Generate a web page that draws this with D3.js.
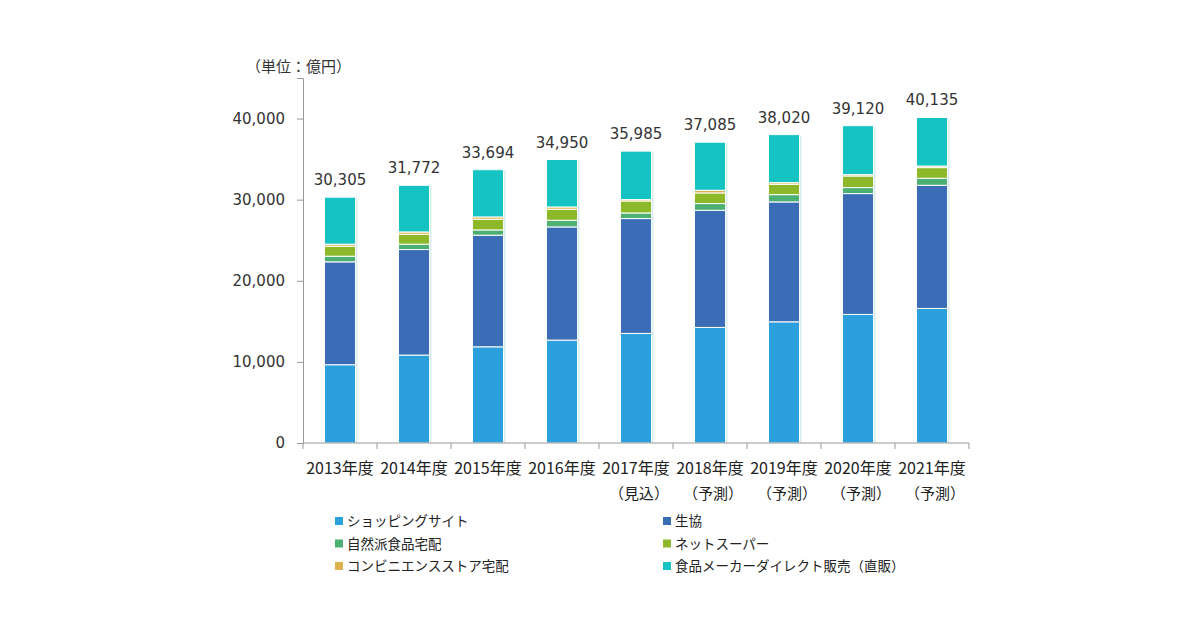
<!DOCTYPE html>
<html><head><meta charset="utf-8">
<script src="https://cdn.jsdelivr.net/npm/d3@7"></script>
<style>
body{margin:0;background:#fff;}
text{font-family:"Noto Sans CJK JP","Noto Sans",sans-serif;}
</style></head>
<body><svg id="c" width="1200" height="630"></svg>
<script>
const years = ["2013年度","2014年度","2015年度","2016年度","2017年度","2018年度","2019年度","2020年度","2021年度"];
const subLabels = ["","","","","（見込）","（予測）","（予測）","（予測）","（予測）"];
const totals = [30305,31772,33694,34950,35985,37085,38020,39120,40135];
const seriesNames = ["ショッピングサイト","生協","自然派食品宅配","ネットスーパー","コンビニエンスストア宅配","食品メーカーダイレクト販売（直販）"];
const shopping = [9650,10840,11860,12685,13510,14250,14940,15850,16590];
const coop     = [12680,13010,13755,13955,14160,14440,14780,14900,15180];
const natural  = [700,660,655,820,690,830,900,740,870];
const netSuper = [1230,1230,1320,1360,1480,1310,1280,1430,1310];
const conv     = [250,280,280,280,170,330,200,170,200];
const direct   = [5795,5752,5824,5850,5975,5925,5920,6030,5985];
const yTicks = [0,10000,20000,30000,40000];
const colors = ["#2ba0dd","#3a6db6","#4cb072","#8cb82a","#dcb24c","#15c3c3"];

(function(){
const svg = d3.select("#c");
const pLeft=303, pRight=969, pTop=78, pBottom=443;
const x = d3.scaleBand().domain(years).range([pLeft,pRight]).paddingInner(0.58).paddingOuter(0.29);
const y = d3.scaleLinear().domain([0,45000]).range([pBottom,pTop]);

const rows = years.map((yr,i)=>({year:yr, s0:shopping[i], s1:coop[i], s2:natural[i], s3:netSuper[i], s4:conv[i], s5:direct[i]}));
const keys = ["s0","s1","s2","s3","s4","s5"];
const stack = d3.stack().keys(keys)(rows);

// shadows
svg.append("g").selectAll("rect").data(rows).join("rect")
  .attr("x",d=>x(d.year)+2).attr("width",x.bandwidth())
  .attr("y",(d,i)=>y(totals[i])+1).attr("height",(d,i)=>pBottom-y(totals[i])-1)
  .attr("fill","#d8eef0");

const g = svg.append("g");
stack.forEach((layer,k)=>{
  g.append("g").selectAll("rect").data(layer).join("rect")
    .attr("x",d=>x(d.data.year)).attr("width",x.bandwidth())
    .attr("y",d=>y(d[1])).attr("height",d=>y(d[0])-y(d[1]))
    .attr("fill",colors[k]).attr("stroke","#fff").attr("stroke-width",1);
});

// axes
const ya = svg.append("g").attr("transform",`translate(${pLeft},0)`)
  .call(d3.axisLeft(y).tickValues(yTicks).tickSize(6).tickPadding(12).tickFormat(d3.format(",")));
ya.select(".domain").attr("stroke","#999");
ya.selectAll(".tick line").attr("stroke","#999");
ya.selectAll("text").attr("fill","#333").style("font-size","15px").style("font-family","Verdana,'DejaVu Sans',sans-serif");

const xa = svg.append("g").attr("transform",`translate(0,${pBottom})`);
xa.append("line").attr("x1",pLeft).attr("x2",pRight).attr("y1",0).attr("y2",0).attr("stroke","#999");
d3.range(years.length+1).forEach(i=>{
  const xx = pLeft + i*(pRight-pLeft)/years.length;
  xa.append("line").attr("x1",xx).attr("x2",xx).attr("y1",0).attr("y2",6).attr("stroke","#999");
});
xa.selectAll("text.yr").data(years).join("text").attr("class","yr")
  .attr("x",d=>x(d)+x.bandwidth()/2).attr("y",31).attr("text-anchor","middle")
  .attr("fill","#222").style("font-size","16px").text(d=>d);
xa.selectAll("text.sub").data(subLabels).join("text").attr("class","sub")
  .attr("x",(d,i)=>x(years[i])+x.bandwidth()/2+3).attr("y",56).attr("text-anchor","middle")
  .attr("fill","#222").style("font-size","15px").text(d=>d);

// totals
svg.append("g").selectAll("text").data(totals).join("text")
  .attr("x",(d,i)=>x(years[i])+x.bandwidth()/2).attr("y",d=>y(d)-12)
  .attr("text-anchor","middle").attr("fill","#333")
  .style("font-size","15px").style("font-family","Verdana,'DejaVu Sans',sans-serif")
  .text(d=>d3.format(",")(d));

// unit
svg.append("text").attr("x",246).attr("y",72).attr("fill","#333").style("font-size","15px").text("（単位：億円）");

// legend
const lg = svg.append("g");
seriesNames.forEach((n,i)=>{
  const col = i%2, row = Math.floor(i/2);
  const lx = col===0?335:663, ly = 521+row*22.5;
  lg.append("rect").attr("x",lx).attr("y",ly-4).attr("width",8).attr("height",8).attr("fill",colors[i]);
  lg.append("text").attr("x",lx+12).attr("y",ly+5).attr("fill","#222").style("font-size","13.5px").text(n);
});
})();
</script></body></html>
